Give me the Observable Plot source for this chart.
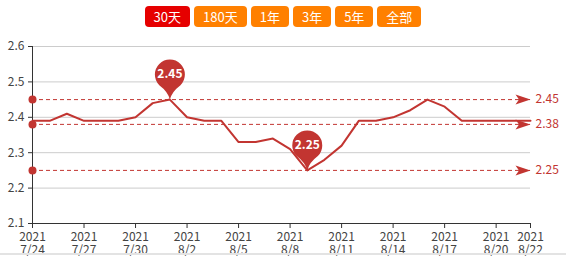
<!DOCTYPE html>
<html>
<head>
<meta charset="utf-8">
<script src="https://cdn.jsdelivr.net/npm/d3@7"></script>
<script src="https://cdn.jsdelivr.net/npm/@observablehq/plot@0.6"></script>
<style>
  html, body { margin: 0; padding: 0; background: #fff; }
  #wrap { position: relative; width: 566px; height: 256px; overflow: hidden; font-family: "Noto Sans CJK SC", "Noto Sans", sans-serif; }
  #buttons { position: absolute; top: 6px; left: 0; width: 566px; display: flex; justify-content: center; gap: 4px; z-index: 2; }
  .btn { height: 21px; line-height: 21px; padding: 0 9px; border-radius: 4px; color: #fff; font-size: 13px; background: #ff8000; }
  .btn.active { background: #e60000; }
  #bottomline { position: absolute; left: 0; top: 253px; width: 566px; height: 2px; background: #e3e3e3; }
</style>
</head>
<body>
<div id="wrap">
  <div id="buttons"></div>
  <div id="chart"></div>
  <div id="bottomline"></div>
</div>
<script>
// ---- data ----
const buttonLabels = ["30天", "180天", "1年", "3年", "5年", "全部"];
const activeButton = 0;

const dates = [
  "2021-07-24","2021-07-25","2021-07-26","2021-07-27","2021-07-28","2021-07-29","2021-07-30",
  "2021-07-31","2021-08-01","2021-08-02","2021-08-03","2021-08-04","2021-08-05","2021-08-06",
  "2021-08-07","2021-08-08","2021-08-09","2021-08-10","2021-08-11","2021-08-12","2021-08-13",
  "2021-08-14","2021-08-15","2021-08-16","2021-08-17","2021-08-18","2021-08-19","2021-08-20",
  "2021-08-21","2021-08-22"
];
const values = [
  2.39, 2.39, 2.41, 2.39, 2.39, 2.39, 2.40,
  2.44, 2.45, 2.40, 2.39, 2.39, 2.33, 2.33,
  2.34, 2.31, 2.25, 2.28, 2.32, 2.39, 2.39,
  2.40, 2.42, 2.45, 2.43, 2.39, 2.39, 2.39,
  2.39, 2.39
];

const tickDates = ["2021-07-24","2021-07-27","2021-07-30","2021-08-02","2021-08-05","2021-08-08",
  "2021-08-11","2021-08-14","2021-08-17","2021-08-20","2021-08-22"];
const yTicks = [2.1, 2.2, 2.3, 2.4, 2.5, 2.6];
const gridValues = [2.2, 2.3, 2.4, 2.5, 2.6];

const refValues = [2.45, 2.38, 2.25];
const refLabels = ["2.45", "2.38", "2.25"];

const pinDates = ["2021-08-01", "2021-08-09"];
const pinValues = [2.45, 2.25];
const pinLabels = ["2.45", "2.25"];

// ---- buttons ----
const bwrap = document.getElementById("buttons");
buttonLabels.forEach((t, i) => {
  const b = document.createElement("div");
  b.className = "btn" + (i === activeButton ? " active" : "");
  b.textContent = t;
  bwrap.appendChild(b);
});

// ---- chart ----
const parse = s => new Date(s + "T00:00:00Z");
const data = dates.map((d, i) => ({date: parse(d), value: values[i]}));
const d0 = parse(dates[0]), d1 = parse(dates[dates.length - 1]);
const refTable = refValues.map((v, i) => ({value: v, label: refLabels[i], start: d0, end: d1}));
const pinTable = pinDates.map((d, i) => ({date: parse(d), value: pinValues[i], label: pinLabels[i]}));

const red = "#c23531";

const arrowSymbol = {
  draw(ctx) {
    ctx.moveTo(0, 0);
    ctx.lineTo(-15, -5);
    ctx.lineTo(-11.5, 0);
    ctx.lineTo(-15, 5);
    ctx.closePath();
  }
};
const pinSymbol = {
  draw(ctx) {
    const R = 15, cy = -25, a = R * Math.SQRT1_2;
    ctx.moveTo(0, 0);
    ctx.quadraticCurveTo(-2, -8, -a, cy + a);
    ctx.arc(0, cy, R, 3 * Math.PI / 4, Math.PI / 4 + 2 * Math.PI, false);
    ctx.quadraticCurveTo(2, -8, 0, 0);
    ctx.closePath();
  }
};

const fmtTick = d => `${d.getUTCFullYear()}\n${d.getUTCMonth() + 1}/${d.getUTCDate()}`;

const chart = Plot.plot({
  width: 566,
  height: 256,
  marginTop: 46,
  marginBottom: 33,
  marginLeft: 32,
  marginRight: 36,
  style: {fontFamily: '"Noto Sans CJK SC", "Noto Sans", sans-serif', fontSize: "12px", color: "#333", background: "transparent", overflow: "visible"},
  x: {type: "utc", domain: [d0, d1]},
  y: {domain: [2.1, 2.6]},
  marks: [
    Plot.ruleY(gridValues, {stroke: "#ccc", strokeWidth: 1}),
    Plot.ruleY([2.1], {stroke: "#333", strokeWidth: 1}),
    Plot.ruleX([d0], {stroke: "#333", strokeWidth: 1}),
    Plot.axisX({ticks: tickDates.map(parse), tickFormat: fmtTick, tickSize: 5, tickPadding: 3, lineHeight: 1.1, label: null, stroke: "#333", fill: "#444"}),
    Plot.axisY({ticks: yTicks, tickFormat: d3.format(".1f"), tickSize: 4, tickPadding: 4, label: null, stroke: "#333", fill: "#444"}),
    Plot.ruleY(refTable, {y: "value", x1: "start", x2: "end", stroke: red, strokeWidth: 1, strokeDasharray: "4,3"}),
    Plot.line(data, {x: "date", y: "value", stroke: red, strokeWidth: 2}),
    Plot.dot(refTable, {x: "start", y: "value", r: 4, fill: red}),
    Plot.dot(refTable, {x: "end", y: "value", symbol: arrowSymbol, fill: red}),
    Plot.text(refTable, {x: "end", y: "value", text: "label", dx: 5, textAnchor: "start", fill: red, fontSize: 12}),
    Plot.dot(pinTable, {x: "date", y: "value", symbol: pinSymbol, fill: red}),
    Plot.text(pinTable, {x: "date", y: "value", text: "label", dy: -25, fill: "#fff", fontWeight: "bold", fontSize: 12})
  ]
});
document.getElementById("chart").appendChild(chart);
</script>
</body>
</html>
